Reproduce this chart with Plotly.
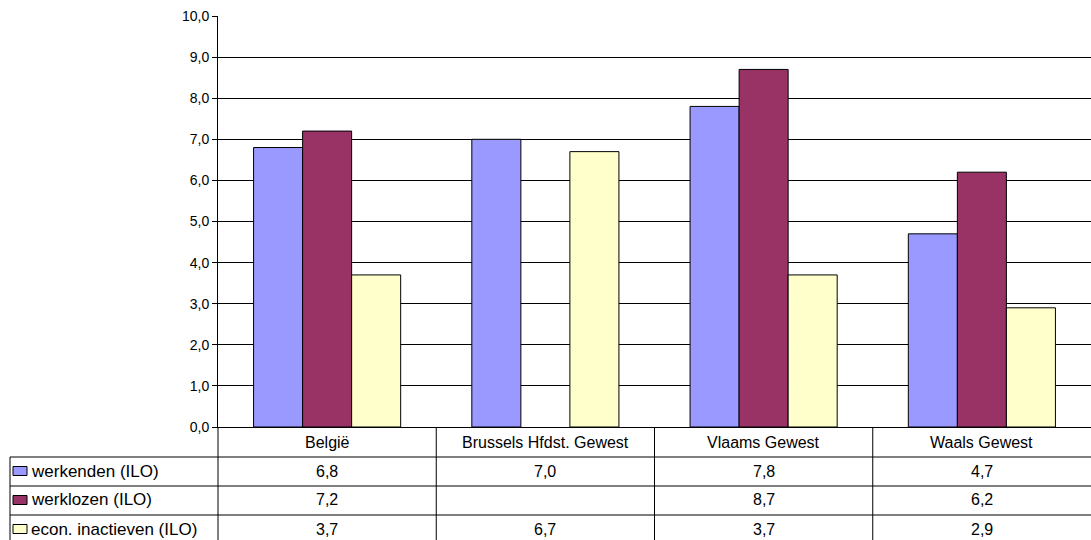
import plotly.graph_objects as go

# gegevens
categorieen = ['België', 'Brussels Hfdst. Gewest', 'Vlaams Gewest', 'Waals Gewest']
reeksen = ['werkenden (ILO)', 'werklozen (ILO)', 'econ. inactieven (ILO)']
werkenden = [6.8, 7.0, 7.8, 4.7]
werklozen = [7.2, None, 8.7, 6.2]
inactieven = [3.7, 6.7, 3.7, 2.9]
kleuren = ['#9999FF', '#993366', '#FFFFCC']

# afmetingen (pixels)
W, H = 1091, 540
L, R, T, B = 218, 0, 16, 113
FONT = 'Liberation Sans, Arial, sans-serif'
FS = 16

def py(p):
    return (H - B - p) / (H - T - B)

def px(p):
    return (p - L) / (W - L - R)

reeks_waarden = [werkenden, werklozen, inactieven]

fig = go.Figure()
for naam, waarden, kleur in zip(reeksen, reeks_waarden, kleuren):
    fig.add_trace(go.Bar(
        x=categorieen, y=waarden, name=naam,
        marker=dict(color=kleur, line=dict(color='black', width=1)),
    ))

# tabel onder de grafiek
kop_top = H - B
rij_tops = [457, 486, 515]
lijn = dict(color='black', width=1)
shapes = []
annotations = []

for y in rij_tops:
    shapes.append(dict(type='line', xref='paper', yref='paper',
                       x0=px(10), x1=1, y0=py(y), y1=py(y), line=lijn))
shapes.append(dict(type='line', xref='paper', yref='paper',
                   x0=px(10), x1=px(10), y0=py(rij_tops[0]), y1=py(H + 5), line=lijn))
shapes.append(dict(type='line', xref='paper', yref='paper',
                   x0=0, x1=0, y0=0, y1=py(H + 5), line=lijn))
for i in range(len(categorieen) - 1):
    shapes.append(dict(type='line', xref='x', yref='paper',
                       x0=i + 0.5, x1=i + 0.5, y0=0, y1=py(H + 5), line=lijn))

for c in categorieen:
    annotations.append(dict(xref='x', yref='paper', x=c, y=py(kop_top + 15),
                            text=c, showarrow=False, yanchor='middle'))

for r, (naam, waarden, kleur) in enumerate(zip(reeksen, reeks_waarden, kleuren)):
    yc = rij_tops[r] + 14
    shapes.append(dict(type='rect', xref='paper', yref='paper',
                       x0=px(13), x1=px(27), y0=py(yc - 4.5), y1=py(yc + 4.5),
                       fillcolor=kleur, line=lijn))
    annotations.append(dict(xref='paper', yref='paper', x=px(29), y=py(yc),
                            text=naam, showarrow=False, xanchor='left', yanchor='middle',
                            font=dict(size=17)))
    for c, v in zip(categorieen, waarden):
        if v is None:
            continue
        annotations.append(dict(xref='x', yref='paper', x=c, y=py(yc),
                                text=f'{v:.1f}'.replace('.', ','), showarrow=False,
                                yanchor='middle'))

fig.update_layout(
    width=W, height=H,
    margin=dict(l=L, r=R, t=T, b=B, pad=0),
    barmode='group', bargap=0.326, bargroupgap=0,
    plot_bgcolor='white', paper_bgcolor='white',
    showlegend=False,
    separators=', ',
    font=dict(family=FONT, size=FS, color='black'),
    xaxis=dict(range=[-0.5, 3.5], showticklabels=False, showline=True,
               linecolor='black', linewidth=1, showgrid=False, ticks=''),
    yaxis=dict(range=[0, 10], dtick=1, tickformat='.1f', showline=True,
               linecolor='black', linewidth=1, gridcolor='black', gridwidth=1,
               ticks='outside', ticklen=5, tickcolor='black', zeroline=False,
               tickfont=dict(size=14)),
    shapes=shapes,
    annotations=annotations,
)

# geen marge rond de pagina, zodat de figuur precies in het venster valt
fig.write_html('out.html', config={'displayModeBar': False},
               post_script="document.body.style.margin='0';document.body.style.overflow='hidden';")
